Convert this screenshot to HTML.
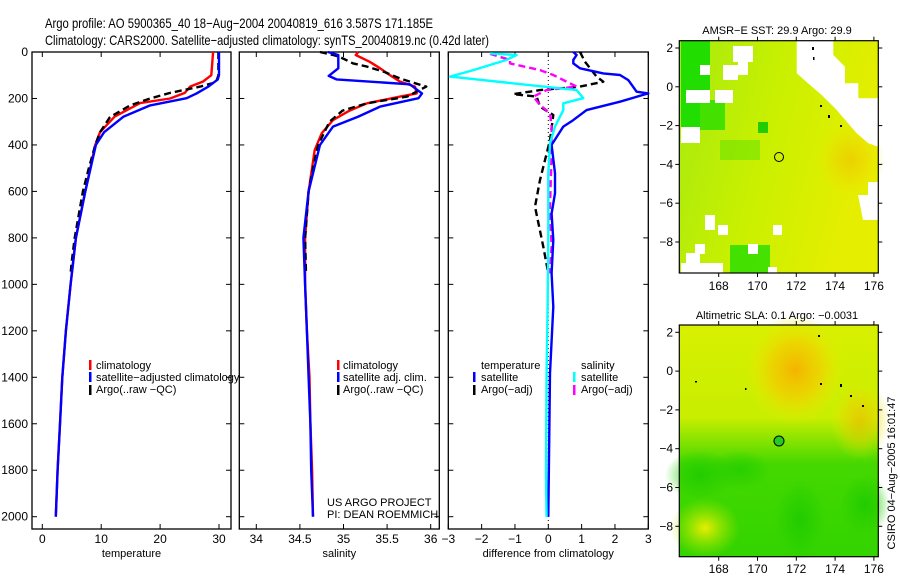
<!DOCTYPE html>
<html><head><meta charset="utf-8"><style>
body{margin:0;background:#fff}
svg{display:block;font-family:"Liberation Sans",sans-serif}
</style></head><body>
<svg id="fig" width="900" height="580" viewBox="0 0 900 580">
<rect width="900" height="580" fill="#fff"/>
<text x="45" y="28" font-size="14" textLength="388" lengthAdjust="spacingAndGlyphs">Argo profile: AO 5900365_40 18−Aug−2004 20040819_616 3.587S 171.185E</text>
<text x="45" y="45" font-size="14" textLength="444" lengthAdjust="spacingAndGlyphs">Climatology: CARS2000. Satellite−adjusted climatology: synTS_20040819.nc (0.42d later)</text>
<g id="plots"></g>
<g id="maps"></g>
</svg>
<script>
// ---------- data ----------
const depthTicks=[0,200,400,600,800,1000,1200,1400,1600,1800,2000];
const tempTicks=[0,10,20,30];
const salTicks=[34,34.5,35,35.5,36];
const diffTicks=[-3,-2,-1,0,1,2,3];
const tempClimD=[0,100,127,149,176,200,220,278,345,400,600,800,1000,1200,1400,1600,1800,2000];
const tempClimV=[29.0,28.7,27.3,25.1,24.2,21.7,16.6,12.3,9.8,9.0,7.3,5.7,4.8,4.0,3.4,3.0,2.6,2.3];
const tempSatD=[0,100,118,149,178,199,230,278,345,400,600,800,1000,1200,1400,1600,1800,2000];
const tempSatV=[30,30,29.8,28.2,26.2,24.5,18.3,13.8,10.5,9.1,7.3,5.7,4.8,4.0,3.4,3.0,2.6,2.3];
const tempArgoD=[0,100,130,149,176,200,230,280,345,400,500,600,700,800,900,953];
const tempArgoV=[29.9,29.9,29.5,26.8,21.7,18.3,14.9,11.5,9.8,9.0,7.9,6.9,6.2,5.5,5.0,4.8];
const salClimD=[0,13,42,70,99,128,149,178,192,221,252,293,350,422,600,800,1000,1200,1400,1600,1800,2000];
const salClimV=[35.17,35.14,35.30,35.42,35.53,35.65,35.82,35.84,35.65,35.27,35.07,34.88,34.75,34.67,34.60,34.56,34.56,34.58,34.61,34.62,34.64,34.65];
const salSatD=[0,13,70,103,118,139,178,199,235,278,321,400,600,800,1000,1200,1400,1600,1800,2000];
const salSatV=[34.82,34.94,34.94,34.83,34.92,35.76,35.90,35.86,35.42,35.17,34.88,34.73,34.60,34.54,34.56,34.58,34.60,34.62,34.63,34.65];
const salArgoD=[0,13,20,49,63,85,114,132,149,192,221,252,300,400,500,600,800,953];
const salArgoV=[34.73,34.88,34.95,35.11,35.27,35.46,35.65,35.80,35.95,35.73,35.27,34.99,34.84,34.71,34.65,34.60,34.56,34.57];
const dTempSatD=[0,13,34,49,70,92,99,121,171,178,214,250,293,321,400,522,608,695,809,953,1096,1383,2001];
const dTempSatV=[0.75,0.85,0.75,0.75,0.95,1.65,2.15,2.4,2.65,3.0,2.15,1.15,0.75,0.45,0.1,0.2,0.2,0.1,0.15,0.1,0.15,0.05,0.0];
const dTempArgoD=[0,42,106,128,149,164,181,192,235,271,379,551,666,838,953];
const dTempArgoV=[0.95,1.1,1.45,1.65,0.95,-0.25,-1.05,-0.35,-0.25,0.15,0.05,-0.25,-0.4,-0.15,0.0];
const dSalSatD=[6,13,34,78,106,164,199,221,250,321,393,522,809,1096,1383,1814,2001];
const dSalSatV=[-1.75,-0.95,-1.25,-2.25,-2.95,0.85,1.05,0.45,0.45,0.2,0.05,0.0,0.0,-0.02,-0.05,-0.07,-0.05];
const dSalArgoD=[8,34,49,78,99,128,149,164,192,228,264,321,436,666,838,953];
const dSalArgoV=[-1.75,-1.15,-1.15,-0.25,0.15,0.55,0.85,-0.05,-0.45,-0.25,0.05,0.1,0.1,0.05,0.1,0.05];

const NS='http://www.w3.org/2000/svg';
const plots=document.getElementById('plots');
function mk(tag,attrs,parent){const e=document.createElementNS(NS,tag);for(const k in attrs)e.setAttribute(k,attrs[k]);(parent||plots).appendChild(e);return e;}
const y0=52,y1=516.7,yTop=52,yBot=529;
function yScale(d){return y0+(d/2000)*(y1-y0);}

function panel(name,x0,x1,v0,v1,vx0,vx1,ticks,labelFn,title){
  const sx=v=>vx0+(v-v0)/(v1-v0)*(vx1-vx0);
  const g=mk('g',{});
  
  
  const f=mk('rect',{x:x0,y:yTop,width:x1-x0,height:yBot-yTop,fill:'none',stroke:'#000','stroke-width':1.3},g);
  
  
  ticks.forEach(t=>{
    const x=sx(t);
    mk('line',{x1:x,x2:x,y1:yBot,y2:yBot-5,stroke:'#000'},g);
    mk('line',{x1:x,x2:x,y1:yTop,y2:yTop+5,stroke:'#000'},g);
    const tl=mk('text',{x:x,y:543,'font-size':12,'text-anchor':'middle'},g);
    tl.textContent=labelFn(t);
    
    
  });
  depthTicks.forEach(d=>{
    const y=yScale(d);
    mk('line',{x1:x0,x2:x0+5,y1:y,y2:y,stroke:'#000'},g);
    mk('line',{x1:x1,x2:x1-5,y1:y,y2:y,stroke:'#000'},g);
  });
  const at=mk('text',{x:(x0+x1)/2,y:557,'font-size':11,'text-anchor':'middle'},g);
  at.textContent=title;
  
  
  return sx;
}
function line(sx,D,V,color,dash,name){
  const pts=D.map((d,i)=>sx(V[i]).toFixed(1)+','+yScale(d).toFixed(1)).join(' ');
  const p=mk('polyline',{points:pts,fill:'none',stroke:color,'stroke-width':2.4,'stroke-linejoin':'round'});
  if(dash)p.setAttribute('stroke-dasharray','7,4');
  
  
}
function txt(x,y,s,name,size,anchor){
  const t=mk('text',{x:x,y:y,'font-size':size||11,'text-anchor':anchor||'start'});
  t.textContent=s;
  
  
  return t;
}
function legBar(x,y,color,name){
  const r=mk('rect',{x:x,y:y-5,width:2.5,height:10,fill:color});
  
  
}

depthTicks.forEach(d=>{
  txt(28,yScale(d)+4,String(d),'depth-tick-label',12,'end');
});

const sxT=panel('temperature',32,231,0,30,42.3,219,tempTicks,t=>String(t),'temperature');
line(sxT,tempClimD,tempClimV,'#ff0000',false,'temp-climatology-line');
line(sxT,tempArgoD,tempArgoV,'#000',true,'temp-argo-line');
line(sxT,tempSatD,tempSatV,'#0000ff',false,'temp-satellite-line');
legBar(89,365,'#ff0000','legend-climatology-swatch');
legBar(89,377,'#0000ff','legend-satellite-swatch');
legBar(89,390,'#000','legend-argo-swatch');
txt(96,369,'climatology','legend-climatology');
txt(96,381,'satellite−adjusted climatology','legend-satellite-adjusted');
txt(96,393,'Argo(..raw −QC)','legend-argo');

const sxS=panel('salinity',239.3,439.3,34,36,256.3,430.7,salTicks,t=>String(t),'salinity');
line(sxS,salClimD,salClimV,'#ff0000',false,'sal-climatology-line');
line(sxS,salArgoD,salArgoV,'#000',true,'sal-argo-line');
line(sxS,salSatD,salSatV,'#0000ff',false,'sal-satellite-line');
legBar(337,365,'#ff0000','legend-sal-climatology-swatch');
legBar(337,377,'#0000ff','legend-sal-satellite-swatch');
legBar(337,390,'#000','legend-sal-argo-swatch');
txt(343,369,'climatology','legend-sal-climatology');
txt(343,381,'satellite adj. clim.','legend-sal-satellite');
txt(343,393,'Argo(..raw −QC)','legend-sal-argo');
txt(327,506,'US ARGO PROJECT','credit-project');
txt(327,518,'PI: DEAN ROEMMICH','credit-pi');

const sxD=panel('difference',448.3,648.3,-3,3,448.3,648.3,diffTicks,t=>t<0?'−'+(-t):String(t),'difference from climatology');
const z=mk('line',{x1:sxD(0),x2:sxD(0),y1:yTop,y2:yBot,stroke:'#000','stroke-dasharray':'1,3'});


line(sxD,dTempArgoD,dTempArgoV,'#000',true,'diff-temp-argo-line');
line(sxD,dSalArgoD,dSalArgoV,'#ff00ff',true,'diff-sal-argo-line');
line(sxD,dTempSatD,dTempSatV,'#0000ff',false,'diff-temp-satellite-line');
line(sxD,dSalSatD,dSalSatV,'#00ffff',false,'diff-sal-satellite-line');
txt(481,369,'temperature','legend-diff-temperature-header');
legBar(473,377,'#0000ff','legend-diff-temp-sat-swatch');
legBar(473,390,'#000','legend-diff-temp-argo-swatch');
txt(481,381,'satellite','legend-diff-temp-satellite');
txt(481,393,'Argo(−adj)','legend-diff-temp-argo');
txt(581,369,'salinity','legend-diff-salinity-header');
legBar(573,377,'#00ffff','legend-diff-sal-sat-swatch');
legBar(573,390,'#ff00ff','legend-diff-sal-argo-swatch');
txt(581,381,'satellite','legend-diff-sal-satellite');
txt(581,393,'Argo(−adj)','legend-diff-sal-argo');

// ---------- maps ----------
const maps=document.getElementById('maps');
function mm(tag,attrs,parent){const e=document.createElementNS(NS,tag);for(const k in attrs)e.setAttribute(k,attrs[k]);(parent||maps).appendChild(e);return e;}
const lonTicks=[168,170,172,174,176];
const latTicks=[2,0,-2,-4,-6,-8];
function mapFrame(name,top,bottom,lat2y,title,titleY,lonLabelY){
  const mx=lon=>718.7+(lon-168)*19.4;
  const my=lat=>lat2y+(2-lat)*19.4;
  const f=mm('rect',{x:679.3,y:top,width:199,height:bottom-top,fill:'none',stroke:'#000','stroke-width':1.2});
  
  
  lonTicks.forEach(l=>{
    mm('line',{x1:mx(l),x2:mx(l),y1:bottom,y2:bottom+4,stroke:'#000'});
    mm('line',{x1:mx(l),x2:mx(l),y1:top,y2:top-4,stroke:'#000'});
    const t=mm('text',{x:mx(l),y:lonLabelY,'font-size':12,'text-anchor':'middle'});
    t.textContent=String(l);
    
    
  });
  latTicks.forEach(l=>{
    mm('line',{x1:679.3,x2:675.3,y1:my(l),y2:my(l),stroke:'#000'});
    mm('line',{x1:878.3,x2:882.3,y1:my(l),y2:my(l),stroke:'#000'});
    const t=mm('text',{x:673,y:my(l)+4,'font-size':12,'text-anchor':'end'});
    t.textContent=l<0?'−'+(-l):String(l);
    
    
  });
  const tt=mm('text',{x:777,y:titleY,'font-size':11,'text-anchor':'middle'});
  tt.textContent=title;
  
  
}
</script>
<script>
(function(){
const m=document.getElementById('maps');
m.insertAdjacentHTML('afterbegin',`
<defs>
<linearGradient id="sstg" x1="0" y1="0" x2="1" y2="0.3"><stop offset="0" stop-color="#a6ea10"/><stop offset="0.5" stop-color="#c8f000"/><stop offset="1" stop-color="#e6ee00"/></linearGradient>
<linearGradient id="slag" x1="0" y1="0" x2="0" y2="1"><stop offset="0" stop-color="#d8f000"/><stop offset="0.4" stop-color="#c8ee00"/><stop offset="0.6" stop-color="#44d800"/><stop offset="1" stop-color="#33d400"/></linearGradient>
<radialGradient id="orng" cx="0.5" cy="0.5" r="0.5"><stop offset="0" stop-color="#f4b400"/><stop offset="0.5" stop-color="#f0d000" stop-opacity="0.8"/><stop offset="1" stop-color="#e8ee00" stop-opacity="0"/></radialGradient>
<radialGradient id="ylw" cx="0.5" cy="0.5" r="0.5"><stop offset="0" stop-color="#e8ee00"/><stop offset="1" stop-color="#b0e800" stop-opacity="0"/></radialGradient>
<radialGradient id="grn" cx="0.5" cy="0.5" r="0.5"><stop offset="0" stop-color="#22cc00"/><stop offset="1" stop-color="#22cc00" stop-opacity="0"/></radialGradient>
</defs>
<g>
<rect x="679.3" y="40.7" width="199" height="232.3" fill="url(#sstg)"/>
<ellipse cx="850" cy="160" rx="35" ry="40" fill="url(#orng)" opacity="0.5"/>
<rect x="681" y="41" width="29" height="87" fill="#22dd00"/>
<rect x="700" y="100" width="25" height="30" fill="#44e000"/>
<rect x="758" y="122" width="10" height="11" fill="#22cc00"/>
<rect x="720" y="140" width="40" height="20" fill="#7ae400" opacity="0.7"/>
<rect x="730" y="245" width="40" height="28" fill="#22dd00" opacity="0.8"/>
<g fill="#fff">
<rect x="733" y="46" width="20" height="16"/><rect x="738" y="62" width="10" height="13"/><rect x="723" y="65" width="15" height="15"/>
<rect x="700" y="65" width="10" height="10"/><rect x="686" y="90" width="24" height="13"/><rect x="715" y="90" width="18" height="13"/>
<rect x="681" y="127" width="19" height="16"/>
<polygon points="796.7,40.7 833.3,40.7 833.3,55 845,66.7 845,83.3 858.3,83.3 858.3,98.3 878.3,98.3 878.3,146.7 868.3,143.3 856.7,133.3 836.7,110 821.7,95 810,85 796.7,73.3"/>
<polygon points="868,182 878,182 878,220 863,220 858,195 868,195"/>
<rect x="705" y="215" width="10" height="15"/><rect x="718" y="225" width="10" height="10"/><rect x="773" y="225" width="9" height="10"/>
<rect x="748" y="244" width="10" height="10"/><rect x="695" y="244" width="10" height="10"/><rect x="686" y="253" width="14" height="10"/>
<rect x="681" y="263" width="42" height="10"/><rect x="768" y="267" width="9" height="6"/>
</g>
<circle cx="779" cy="157" r="4.5" fill="none" stroke="#000"/>
</g>
<g>
<rect x="679.3" y="325" width="199" height="231.7" fill="url(#slag)"/>
<ellipse cx="795" cy="370" rx="50" ry="55" fill="url(#orng)"/>
<ellipse cx="860" cy="420" rx="30" ry="40" fill="url(#orng)" opacity="0.6"/>
<ellipse cx="705" cy="528" rx="35" ry="30" fill="url(#ylw)"/>
<ellipse cx="700" cy="475" rx="35" ry="25" fill="url(#grn)"/>
<ellipse cx="800" cy="520" rx="25" ry="40" fill="url(#grn)"/>
<ellipse cx="865" cy="505" rx="25" ry="30" fill="url(#grn)"/>
<ellipse cx="740" cy="470" rx="30" ry="20" fill="url(#grn)" opacity="0.8"/>
<circle cx="779" cy="441" r="5" fill="#22cc22" stroke="#000"/>
</g>
<g fill="#000">
<rect x="820" y="105" width="2" height="2"/><rect x="828" y="115" width="2" height="3"/><rect x="840" y="125" width="2" height="2"/>
<rect x="812" y="47" width="2" height="3"/><rect x="813" y="57" width="1.5" height="3"/><rect x="820" y="383" width="2" height="2"/>
<rect x="840" y="384" width="2" height="3"/><rect x="850" y="395" width="2" height="2"/><rect x="862" y="405" width="2" height="2"/>
<rect x="695" y="381" width="2" height="1.5"/><rect x="745" y="388" width="1.5" height="2"/><rect x="818" y="335" width="2" height="2"/>
</g>
<text transform="translate(895,473) rotate(-90)" font-size="11" text-anchor="middle">CSIRO 04−Aug−2005 16:01:47</text>
`);
mapFrame('sst-map',40.7,273,48,'AMSR−E SST: 29.9 Argo: 29.9',34,290);
mapFrame('sla-map',325,556.7,332.3,'Altimetric SLA: 0.1 Argo: −0.0031',319,573);
})();
</script>
</body></html>
